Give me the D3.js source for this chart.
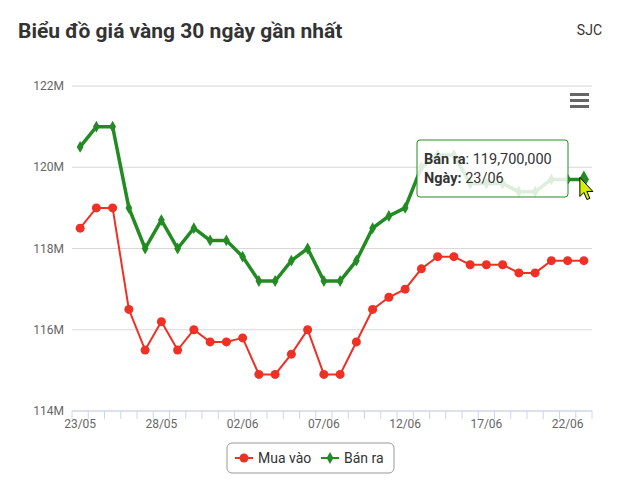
<!DOCTYPE html>
<html><head><meta charset="utf-8">
<script src="https://cdn.jsdelivr.net/npm/d3@7"></script>
<style>body{margin:0;background:#fff;font-family:Roboto,"Noto Sans",sans-serif}</style>
</head><body><svg id="c" width="640" height="488"></svg>
<script>
const dates=["23/05","24/05","25/05","26/05","27/05","28/05","29/05","30/05","31/05","01/06","02/06","03/06","04/06","05/06","06/06","07/06","08/06","09/06","10/06","11/06","12/06","13/06","14/06","15/06","16/06","17/06","18/06","19/06","20/06","21/06","22/06","23/06"];
const muaVao=[118.5,119,119,116.5,115.5,116.2,115.5,116,115.7,115.7,115.8,114.9,114.9,115.4,116,114.9,114.9,115.7,116.5,116.8,117,117.5,117.8,117.8,117.6,117.6,117.6,117.4,117.4,117.7,117.7,117.7];
const banRa=[120.5,121,121,119,118,118.7,118,118.5,118.2,118.2,117.8,117.2,117.2,117.7,118,117.2,117.2,117.7,118.5,118.8,119,120,120.3,120.3,119.6,119.6,119.6,119.4,119.4,119.7,119.7,119.7];
const yTicks=[114,116,118,120,122];
const svg=d3.select("#c");
const L=72,R=592,T=86,B=411;
const x=d3.scaleBand().domain(dates).range([L,R]);
const cx=d=>x(d)+x.bandwidth()/2;
const y=d3.scaleLinear().domain([114,122]).range([B,T]);
svg.append("text").attr("x",18).attr("y",38).attr("font-size",21).attr("font-weight","bold").attr("fill","#333").text("Biểu đồ giá vàng 30 ngày gần nhất");
svg.append("text").attr("x",602).attr("y",35).attr("text-anchor","end").attr("font-size",14).attr("fill","#333").text("SJC");
const gy=svg.append("g");
yTicks.forEach(t=>{
 gy.append("line").attr("x1",L).attr("x2",R).attr("y1",y(t)).attr("y2",y(t)).attr("stroke","#d8d8d8");
 gy.append("text").attr("x",64).attr("y",y(t)+4).attr("text-anchor","end").attr("font-size",12).attr("fill","#666").text(t+"M");
});
const xa=svg.append("g").attr("transform",`translate(0,${B})`);
xa.append("line").attr("x1",L).attr("x2",R).attr("stroke","#ccd6eb");
dates.forEach((d,i)=>{xa.append("line").attr("x1",x(d)).attr("x2",x(d)).attr("y2",8).attr("stroke","#ccd6eb");});
xa.append("line").attr("x1",R).attr("x2",R).attr("y2",8).attr("stroke","#ccd6eb");
dates.forEach((d,i)=>{if(i%5===0)xa.append("text").attr("x",cx(d)).attr("y",17).attr("text-anchor","middle").attr("font-size",12).attr("fill","#666").text(d);});
const line=d3.line().x((d,i)=>cx(dates[i])).y(d=>y(d));
svg.append("path").datum(muaVao).attr("d",line).attr("fill","none").attr("stroke","#ee3124").attr("stroke-width",2);
svg.selectAll(".m").data(muaVao).join("circle").attr("cx",(d,i)=>cx(dates[i])).attr("cy",d=>y(d)).attr("r",4.5).attr("fill","#ee3124");
svg.append("path").datum(banRa).attr("d",line).attr("fill","none").attr("stroke","#228b22").attr("stroke-width",3.5);
svg.selectAll(".b").data(banRa).join("path").attr("transform",(d,i)=>`translate(${cx(dates[i])},${y(d)})`).attr("d",d3.symbol(d3.symbolDiamond,40)).attr("fill","#228b22");
const li=banRa.length-1;
svg.append("path").attr("transform",`translate(${cx(dates[li])},${y(banRa[li])})`).attr("d",d3.symbol(d3.symbolDiamond,90)).attr("fill","#228b22");
[0,6,12].forEach(o=>svg.append("rect").attr("x",570).attr("y",93+o).attr("width",19).attr("height",3).attr("fill","#666"));
const tg=svg.append("g");
tg.append("rect").attr("x",417).attr("y",140).attr("width",151).attr("height",57).attr("rx",3).attr("fill","rgba(255,255,255,0.85)").attr("stroke","#228b22");
const t1=tg.append("text").attr("x",424).attr("y",164).attr("font-size",14.5).attr("fill","#333");
t1.append("tspan").attr("font-weight","bold").text("Bán ra");t1.append("tspan").text(": 119,700,000");
const t2=tg.append("text").attr("x",424).attr("y",183).attr("font-size",14.5).attr("fill","#333");
t2.append("tspan").attr("font-weight","bold").text("Ngày:");t2.append("tspan").text(" 23/06");
const px=cx(dates[li])-4,py=y(banRa[li])-2;
svg.append("path").attr("d",`M${px},${py} l0,19 l4,-4 l3,7 l3,-1 l-3,-7 l6,0 z`).attr("fill","#d4f000").attr("stroke","#000");
const lg=svg.append("g");
lg.append("rect").attr("x",227).attr("y",443).attr("width",167).attr("height",30).attr("rx",5).attr("fill","#fff").attr("stroke","#999");
lg.append("line").attr("x1",235).attr("x2",253).attr("y1",458).attr("y2",458).attr("stroke","#ee3124").attr("stroke-width",2);
lg.append("circle").attr("cx",244).attr("cy",458).attr("r",4.5).attr("fill","#ee3124");
lg.append("text").attr("x",258).attr("y",463).attr("font-size",14).attr("fill","#333").text("Mua vào");
lg.append("line").attr("x1",321).attr("x2",339).attr("y1",458).attr("y2",458).attr("stroke","#228b22").attr("stroke-width",2);
lg.append("path").attr("transform","translate(330,458)").attr("d",d3.symbol(d3.symbolDiamond,40)).attr("fill","#228b22");
lg.append("text").attr("x",344).attr("y",463).attr("font-size",14).attr("fill","#333").text("Bán ra");
</script></body></html>
